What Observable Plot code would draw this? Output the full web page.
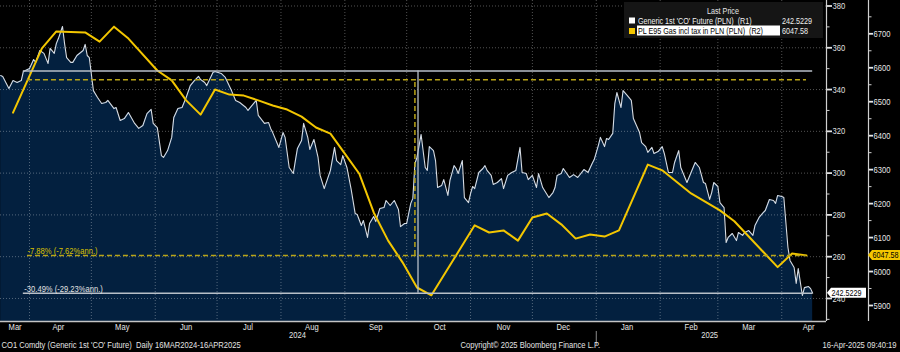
<!DOCTYPE html>
<html><head><meta charset="utf-8">
<script src="https://cdn.jsdelivr.net/npm/d3@7"></script>
<script src="https://cdn.jsdelivr.net/npm/@observablehq/plot@0.6"></script>
<style>
html,body{margin:0;padding:0;background:#000;}
#chart{width:900px;height:352px;overflow:hidden;}
svg{display:block;}
svg text{white-space:pre;}
</style></head><body><div id="chart"></div>
<script>
// ---- Data ----
const whiteDates = ["2024-03-18","2024-03-19","2024-03-22","2024-03-24","2024-03-26","2024-03-28","2024-03-29","2024-04-01","2024-04-03","2024-04-04","2024-04-06","2024-04-08","2024-04-10","2024-04-11","2024-04-13","2024-04-14","2024-04-15","2024-04-17","2024-04-18","2024-04-19","2024-04-21","2024-04-22","2024-04-24","2024-04-27","2024-04-28","2024-04-29","2024-04-30","2024-05-02","2024-05-04","2024-05-06","2024-05-08","2024-05-09","2024-05-12","2024-05-13","2024-05-15","2024-05-17","2024-05-19","2024-05-22","2024-05-24","2024-05-26","2024-05-28","2024-05-30","2024-05-31","2024-06-02","2024-06-04","2024-06-05","2024-06-07","2024-06-09","2024-06-10","2024-06-12","2024-06-14","2024-06-16","2024-06-18","2024-06-20","2024-06-22","2024-06-23","2024-06-25","2024-06-26","2024-06-29","2024-06-30","2024-07-03","2024-07-05","2024-07-08","2024-07-10","2024-07-12","2024-07-15","2024-07-16","2024-07-20","2024-07-21","2024-07-24","2024-07-26","2024-07-27","2024-07-28","2024-07-31","2024-08-02","2024-08-03","2024-08-05","2024-08-07","2024-08-08","2024-08-09","2024-08-11","2024-08-12","2024-08-14","2024-08-15","2024-08-17","2024-08-19","2024-08-20","2024-08-22","2024-08-25","2024-08-27","2024-08-28","2024-08-30","2024-08-31","2024-09-02","2024-09-04","2024-09-06","2024-09-07","2024-09-09","2024-09-10","2024-09-12","2024-09-13","2024-09-15","2024-09-16","2024-09-18","2024-09-20","2024-09-21","2024-09-23","2024-09-25","2024-09-27","2024-09-28","2024-09-30","2024-10-01","2024-10-03","2024-10-04","2024-10-05","2024-10-06","2024-10-08","2024-10-10","2024-10-11","2024-10-12","2024-10-14","2024-10-15","2024-10-16","2024-10-18","2024-10-19","2024-10-21","2024-10-22","2024-10-24","2024-10-25","2024-10-26","2024-10-28","2024-10-29","2024-10-31","2024-11-01","2024-11-02","2024-11-03","2024-11-05","2024-11-07","2024-11-08","2024-11-09","2024-11-11","2024-11-12","2024-11-14","2024-11-16","2024-11-17","2024-11-19","2024-11-21","2024-11-23","2024-11-25","2024-11-26","2024-11-28","2024-11-29","2024-12-01","2024-12-03","2024-12-04","2024-12-06","2024-12-09","2024-12-11","2024-12-12","2024-12-13","2024-12-15","2024-12-16","2024-12-19","2024-12-21","2024-12-23","2024-12-26","2024-12-28","2024-12-30","2024-12-31","2025-01-02","2025-01-03","2025-01-05","2025-01-06","2025-01-07","2025-01-09","2025-01-10","2025-01-11","2025-01-13","2025-01-14","2025-01-16","2025-01-18","2025-01-19","2025-01-22","2025-01-23","2025-01-25","2025-01-26","2025-01-28","2025-01-29","2025-01-31","2025-02-02","2025-02-03","2025-02-05","2025-02-07","2025-02-08","2025-02-10","2025-02-11","2025-02-12","2025-02-14","2025-02-16","2025-02-18","2025-02-20","2025-02-22","2025-02-23","2025-02-25","2025-02-26","2025-02-27","2025-03-01","2025-03-02","2025-03-04","2025-03-05","2025-03-06","2025-03-08","2025-03-10","2025-03-11","2025-03-13","2025-03-14","2025-03-16","2025-03-18","2025-03-19","2025-03-21","2025-03-23","2025-03-24","2025-03-26","2025-03-28","2025-03-29","2025-03-30","2025-04-01","2025-04-02","2025-04-04","2025-04-05","2025-04-07","2025-04-08","2025-04-09","2025-04-11","2025-04-12","2025-04-14","2025-04-15","2025-04-16"];
const whiteVals = [346.7,346.3,340.5,344.3,343.4,344.3,348.6,350.1,354.4,353.0,358.7,357.3,352.5,359.7,357.3,362.0,364.4,370.2,362.0,355.3,353.0,353.0,356.3,358.7,361.6,356.3,355.3,339.5,336.2,333.3,333.8,334.8,330.9,331.4,325.2,326.1,329.0,323.8,321.4,322.8,328.5,330.5,323.8,321.8,308.4,307.5,310.8,317.1,326.6,330.9,331.4,336.2,341.9,344.3,346.3,344.8,343.4,341.9,348.2,348.6,347.7,345.8,339.5,334.8,333.8,331.4,330.0,334.8,327.6,323.8,324.2,321.4,319.4,312.3,319.4,317.1,302.7,299.8,306.0,311.8,315.6,323.8,317.1,311.3,316.1,307.5,298.9,292.6,301.3,312.3,306.0,304.1,308.4,302.7,292.6,280.7,280.2,274.9,277.3,269.2,275.9,279.2,276.8,283.1,283.5,286.9,284.5,286.9,282.6,274.4,275.9,275.9,285.5,287.9,304.6,307.5,318.5,302.7,301.3,312.7,310.8,306.0,293.1,294.1,296.9,289.3,296.5,303.6,302.2,299.8,306.0,288.3,285.9,290.2,293.6,292.6,300.3,302.2,303.6,301.3,298.9,294.6,295.5,297.4,292.6,298.9,300.3,301.3,312.3,300.3,299.8,296.9,298.9,293.1,299.8,293.1,288.3,290.7,293.1,298.9,299.8,302.2,297.9,299.3,297.9,301.7,300.3,304.6,306.5,313.2,317.1,312.7,316.6,316.1,319.0,333.3,338.6,331.4,339.5,337.2,334.8,326.1,319.4,314.6,312.7,309.9,312.3,309.4,310.3,312.7,309.4,300.3,300.3,305.1,310.8,302.7,300.3,295.5,300.3,305.1,302.7,295.5,295.0,287.4,290.7,295.5,293.6,285.9,283.5,266.8,269.2,271.1,267.7,271.6,270.2,271.6,272.5,270.2,274.9,278.8,281.1,282.1,287.4,286.9,285.5,289.3,288.8,288.3,264.4,258.2,254.8,247.2,254.3,241.4,245.2,245.7,244.7,242.5229];

const yellowDates = ["2024-03-24","2024-04-07","2024-04-14","2024-04-28","2024-05-05","2024-05-12","2024-05-19","2024-06-02","2024-06-09","2024-06-16","2024-06-23","2024-06-30","2024-07-07","2024-07-14","2024-07-21","2024-07-28","2024-08-04","2024-08-11","2024-08-18","2024-08-25","2024-09-01","2024-09-08","2024-09-15","2024-09-22","2024-09-29","2024-10-06","2024-10-13","2024-11-03","2024-11-10","2024-11-17","2024-11-24","2024-12-01","2024-12-08","2024-12-15","2024-12-22","2024-12-29","2025-01-05","2025-01-12","2025-01-26","2025-02-02","2025-02-16","2025-03-02","2025-03-09","2025-03-30","2025-04-06","2025-04-13"];
const yellowVals = [6468,6657,6707,6704,6677,6721,6686,6592,6563,6504,6462,6536,6521,6518,6504,6489,6477,6456,6424,6406,6347,6288,6174,6091,6027,5953,5930,6136,6115,6121,6091,6159,6171,6139,6097,6109,6103,6121,6315,6298,6230,6180,6148,6013,6053,6047.58];

const r1Ticks = [240,260,280,300,320,340,360,380];
const r1Minor = [230,250,270,290,310,330,350,370];
const r2Ticks = [5900,6000,6100,6200,6300,6400,6500,6600,6700];
const r2Minor = [5950,6050,6150,6250,6350,6450,6550,6650,6750];
const monthLabelDates = ["2024-03-25","2024-04-15","2024-05-16","2024-06-16","2024-07-16","2024-08-16","2024-09-16","2024-10-17","2024-11-17","2024-12-16","2025-01-16","2025-02-16","2025-03-16","2025-04-14"];
const yearLabels = ["2024","2025"];
const yearLabelDates = ["2024-08-09","2025-02-25"];
const yearBreak = ["2025-01-01"];
const seriesNames = ["Generic 1st 'CO' Future (PLN)  (R1)","PL E95 Gas incl tax in PLN (PLN)  (R2)"];
const lastPrices = ["242.5229","6047.58"];
const lastValues = [242.5229, 6047.58];
// measurement annotations (start date, end date, connector date) and levels
const whiteSpan = ["2024-03-29","2025-04-16","2024-10-06T12:00"];
const whiteLevels = [348.9, 242.5229];
const yellowSpan = ["2024-03-31","2025-04-13","2024-10-05"];
const yellowLevels = [6564.9, 6047.58];
const pctLabels = ["-30.49% (-29.23%ann.)","-7.88% (-7.62%ann.)"];
const footer = ["CO1 Comdty (Generic 1st 'CO' Future)  Daily 16MAR2024-16APR2025","Copyright\u00a9 2025 Bloomberg Finance L.P.","16-Apr-2025 09:40:19"];

// ---- Setup ----
const FONT = "'Liberation Sans Narrow','Arial Narrow','Liberation Sans',Arial,sans-serif";
const FS = 9.5, FSL = 9, SQUEEZE = 0.8;
const NAVY = "#03203f", YEL = "#f3c600", YDASH = "#b9a417", WL = "#d6dce4", ANN = "#b8bfc8";
const p = d3.utcParse("%Y-%m-%d");
const pt = d => d.length > 10 ? new Date(d + "Z") : p(d);
const white = whiteDates.map((d, i) => ({date: pt(d), v: whiteVals[i]}));
const yellow = yellowDates.map((d, i) => ({date: pt(d), v: yellowVals[i]}));
// right axis R2 mapped onto the R1 scale
const r2 = d3.scaleLinear().domain([5900, 6700]).range([236.63, 366.69]);
const xDomain = [new Date("2024-03-17T22:00Z"), new Date("2025-04-22T17:00Z")];
const yDomain = [228.97, 382.63];
const monthStarts = d3.utcMonths(new Date("2024-04-01T00:00Z"), new Date("2025-04-02T00:00Z"));
const grid = {stroke: "#ffffff", strokeOpacity: 0.32, strokeDasharray: "1,2"};

const plot = Plot.plot({
  width: 900, height: 352,
  marginTop: 0, marginRight: 74, marginBottom: 31, marginLeft: 0,
  style: {background: "#000", fontFamily: FONT, color: "#e4e4e4", fontSize: FS + "px"},
  x: {type: "utc", domain: xDomain},
  y: {type: "linear", domain: yDomain},
  marks: [
    Plot.areaY(white, {x: "date", y1: yDomain[0], y2: "v", fill: NAVY}),
    Plot.gridX(monthStarts, grid),
    Plot.gridY(r1Ticks, grid),
    Plot.lineY(white, {x: "date", y: "v", stroke: WL, strokeWidth: 1.1}),
    Plot.line(yellow, {x: "date", y: d => r2(d.v), stroke: YEL, strokeWidth: 2}),
    // measurement annotations
    Plot.ruleY(yellowLevels.map(r2), {x1: pt(yellowSpan[0]), x2: pt(yellowSpan[1]), stroke: YDASH, strokeWidth: 1.5, strokeDasharray: "5,3"}),
    Plot.ruleX([pt(yellowSpan[2])], {y1: r2(yellowLevels[1]), y2: r2(yellowLevels[0]), stroke: YDASH, strokeWidth: 1.5, strokeDasharray: "5,3"}),
    Plot.ruleY(whiteLevels, {x1: pt(whiteSpan[0]), x2: pt(whiteSpan[1]), stroke: ANN, strokeWidth: 1.5}),
    Plot.ruleX([pt(whiteSpan[2])], {y1: whiteLevels[1], y2: whiteLevels[0], stroke: ANN, strokeWidth: 1.3}),
    Plot.text([pctLabels[0]], {x: pt(whiteSpan[0]), y: whiteLevels[1], dx: 1, dy: -4, textAnchor: "start", fill: "#e2e2e2", fontSize: FS}),
    Plot.text([pctLabels[1]], {x: pt(yellowSpan[0]), y: r2(yellowLevels[1]), dy: -4, textAnchor: "start", fill: "#d9c000", fontSize: FS}),
    // frame lines
    Plot.ruleY([yDomain[0]], {stroke: "#c4c4c4", strokeWidth: 1.5}),
    Plot.ruleX([xDomain[1]], {stroke: "#d0d0d0", strokeWidth: 1.2}),
    Plot.ruleX([xDomain[1]], {dx: 42, stroke: "#d0d0d0", strokeWidth: 1.2}),
    // axes
    Plot.axisY(r1Ticks, {anchor: "right", label: null, tickSize: 5, tickPadding: 1, strokeWidth: 1.8, fontSize: FS, color: "#e0e0e0"}),
    Plot.axisY(r1Minor, {anchor: "right", label: null, tickSize: 2.5, tickFormat: () => "", color: "#d0d0d0"}),
    Plot.axisY(r2Ticks.map(r2), {anchor: "right", label: null, dx: 42, tickSize: 4, tickPadding: 1, strokeWidth: 1.8, fontSize: FS, color: "#e6e6e6",
      tickFormat: d => String(Math.round(r2.invert(d)))}),
    Plot.axisY(r2Minor.map(r2), {anchor: "right", label: null, dx: 42, tickSize: 2.5, tickFormat: () => "", color: "#d0d0d0"}),
    Plot.axisX(monthLabelDates.map(pt), {anchor: "bottom", label: null, tickSize: 0, tickPadding: 2, fontSize: FS, color: "#e8e8e8", tickFormat: d3.utcFormat("%b")}),
    Plot.text(yearLabels, {x: (d, i) => pt(yearLabelDates[i]), frameAnchor: "bottom", dy: 16, fill: "#e4e4e4", fontSize: FS}),
    Plot.ruleX(yearBreak.map(pt), {insetTop: 331, insetBottom: -24, stroke: "#8a8a8a"}),
    // footer
    Plot.text([footer[0]], {frameAnchor: "bottom-left", dx: 1, dy: 26, textAnchor: "start", fill: "#e4e4e4", fontSize: FS}),
    Plot.text([footer[1]], {frameAnchor: "bottom-left", dx: 460, dy: 26, textAnchor: "start", fill: "#e4e4e4", fontSize: FS}),
    Plot.text([footer[2]], {frameAnchor: "bottom-right", dx: 70, dy: 26, textAnchor: "end", fill: "#e4e4e4", fontSize: FS})
  ]
});

// ---- Overlays: last-price tags and legend ----
const ys = plot.scale("y");
const svg = d3.select(plot);
const tags = svg.append("g").attr("font-family", FONT).attr("font-size", FSL).attr("text-anchor", "start");
function tag(x0, x1, yc, h, fill, label) {
  const g = tags.append("g");
  g.append("path")
    .attr("d", `M${x0},${yc} L${x0 + 4},${yc - h / 2} L${x1},${yc - h / 2} L${x1},${yc + h / 2} L${x0 + 4},${yc + h / 2} Z`)
    .attr("fill", fill);
  g.append("text").attr("x", x0 + 4.5).attr("y", yc).attr("dy", "0.35em").attr("fill", "#000").text(label);
}
tag(827, 866, ys.apply(lastValues[0]), 10, "#ffffff", lastPrices[0]);
tag(868, 900, ys.apply(r2(lastValues[1])), 10, YEL, lastPrices[1]);

const lg = svg.append("g").attr("font-family", FONT).attr("font-size", FSL).attr("text-anchor", "start");
lg.append("rect").attr("x", 624).attr("y", 2).attr("width", 199).attr("height", 36).attr("fill", "#151515");
lg.append("text").attr("x", 723).attr("y", 14).attr("text-anchor", "middle").attr("fill", "#e6e6e6").text("Last Price");
lg.append("rect").attr("x", 629).attr("y", 17.5).attr("width", 6).attr("height", 6).attr("fill", "#ffffff");
lg.append("text").attr("x", 638).attr("y", 24).attr("fill", "#f0f0f0").text(seriesNames[0]);
lg.append("text").attr("x", 782).attr("y", 24).attr("fill", "#f0f0f0").text(lastPrices[0]);
lg.append("rect").attr("x", 629).attr("y", 28).attr("width", 6).attr("height", 6).attr("fill", YEL);
lg.append("rect").attr("x", 637).attr("y", 25.5).attr("width", 143).attr("height", 10).attr("fill", "#ffffff");
lg.append("text").attr("x", 638).attr("y", 34).attr("fill", "#000").text(seriesNames[1]);
lg.append("text").attr("x", 782).attr("y", 34).attr("fill", "#f0f0f0").text(lastPrices[1]);

document.getElementById("chart").appendChild(plot);
// condense every label horizontally around its anchor (narrow Bloomberg look)
plot.querySelectorAll("text").forEach(t => {
  const b = t.getBBox();
  if (!(b.width > 0)) return;
  const anchor = getComputedStyle(t).textAnchor;
  const ax = anchor === "end" ? b.x + b.width : anchor === "middle" ? b.x + b.width / 2 : b.x;
  const prev = t.getAttribute("transform");
  t.setAttribute("transform", (prev ? prev + " " : "") + `translate(${ax},0) scale(${SQUEEZE},1) translate(${-ax},0)`);
});
</script></body></html>
